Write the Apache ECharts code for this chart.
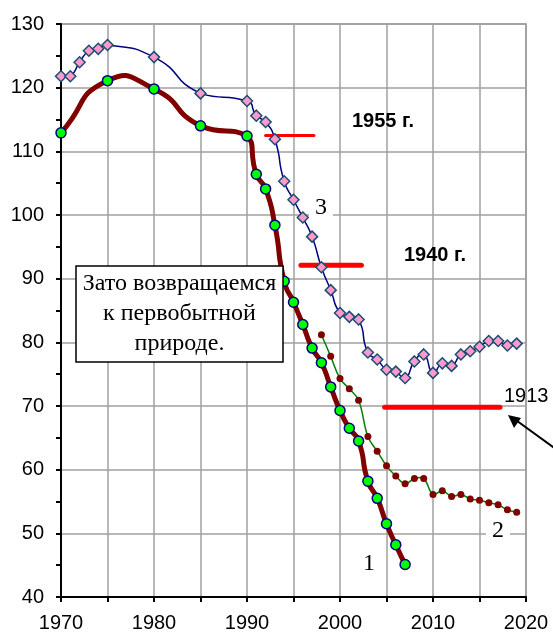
<!DOCTYPE html>
<html>
<head>
<meta charset="utf-8">
<script src="https://cdn.jsdelivr.net/npm/echarts@6/dist/echarts.min.js"></script>
<style>
  html, body { margin: 0; padding: 0; background: #fff; }
  #chart { width: 553px; height: 632px; }
</style>
</head>
<body>
<div id="chart"></div>
<script>
// curve 1 (thick dark red, green circles)
var years1 = [1970, 1975, 1980, 1985, 1990, 1991, 1992, 1993, 1994, 1995, 1996,
  1997, 1998, 1999, 2000, 2001, 2002, 2003, 2004, 2005, 2006, 2007];
var values1 = [112.9, 121.1, 119.8, 114.0, 112.4, 106.4, 104.1, 98.4, 89.6, 86.3, 82.8,
  79.1, 76.8, 73.0, 69.3, 66.5, 64.5, 58.2, 55.5, 51.5, 48.2, 45.1];

// curve 2 (thin green, dark red dots)
var years2 = [1998, 1999, 2000, 2001, 2002, 2003, 2004, 2005, 2006, 2007, 2008,
  2009, 2010, 2011, 2012, 2013, 2014, 2015, 2016, 2017, 2018, 2019];
var values2 = [81.2, 77.8, 74.3, 72.7, 70.9, 65.2, 62.9, 60.6, 59.0, 57.8, 58.6,
  58.6, 56.1, 56.7, 55.8, 56.1, 55.4, 55.2, 54.8, 54.5, 53.7, 53.3];

// curve 3 (navy, pink diamonds)
var years3 = [1970, 1971, 1972, 1973, 1974, 1975, 1980, 1985, 1990, 1991, 1992,
  1993, 1994, 1995, 1996, 1997, 1998, 1999, 2000, 2001, 2002, 2003, 2004, 2005,
  2006, 2007, 2008, 2009, 2010, 2011, 2012, 2013, 2014, 2015, 2016, 2017, 2018, 2019];
var values3 = [121.8, 121.8, 124.0, 125.8, 126.1, 126.7, 124.8, 119.1, 117.9, 115.6, 114.6,
  111.9, 105.3, 102.4, 99.6, 96.6, 91.8, 88.2, 84.6, 84.0, 83.6, 78.4, 77.3, 75.7,
  75.4, 74.4, 77.0, 78.1, 75.2, 76.7, 76.3, 78.1, 78.6, 79.3, 80.2, 80.2, 79.5, 79.8];

// reference levels (1955, 1940, 1913)
var refStart = [1992, 1995.8, 2004.8];
var refEnd = [1997.2, 2002.3, 2017.2];
var refValue = [112.5, 92.1, 69.8];
var refWidth = [3, 5, 5];

function pairs(xs, ys) {
  return xs.map(function (x, i) { return [x, ys[i]]; });
}

// Excel-like smoothed line: one bezier segment per point, drawn through the axes
function splineSeries(xs, ys, color, width, smooth) {
  var n = xs.length;
  // a point whose neighbours are unevenly spaced in time
  function uneven(k) {
    if (k <= 0 || k >= n - 1) return false;
    var a = xs[k] - xs[k - 1], b = xs[k + 1] - xs[k];
    return Math.max(a, b) / Math.min(a, b) > 1.5;
  }
  return {
    type: "custom",
    data: pairs(xs, ys),
    silent: true,
    renderItem: function (params, api) {
      var i = params.dataIndex;
      if (i >= n - 1) return null;
      function pt(k) {
        k = Math.max(0, Math.min(n - 1, k));
        return api.coord([xs[k], ys[k]]);
      }
      var clampY = uneven(i) || uneven(i + 1);
      var p1 = pt(i), p2 = pt(i + 1);
      var ylo = Math.min(p1[1], p2[1]), yhi = Math.max(p1[1], p2[1]);
      function ctrl(k, forward) {
        var p = pt(k), a = pt(k - 1), b = pt(k + 1);
        var vx = b[0] - a[0], vy = b[1] - a[1];
        var lp = Math.hypot(p[0] - a[0], p[1] - a[1]);
        var ln = Math.hypot(b[0] - p[0], b[1] - p[1]);
        var r = lp + ln > 0 ? (forward ? ln : lp) / (lp + ln) : 0.5;
        var s = forward ? smooth * r : -smooth * r;
        var cx = p[0] + vx * s, cy = p[1] + vy * s;
        var lim = forward ? b[0] : a[0];
        var lo = Math.min(p[0], lim), hi = Math.max(p[0], lim);
        var cxc = Math.max(lo, Math.min(hi, cx));
        if (cx !== p[0] && cxc !== cx) {
          cy = p[1] + (cy - p[1]) * (cxc - p[0]) / (cx - p[0]);
        }
        if (clampY) cy = Math.max(ylo, Math.min(yhi, cy));
        return [cxc, cy];
      }
      var c1 = ctrl(i, true), c2 = ctrl(i + 1, false);
      return {
        type: "bezierCurve",
        shape: {
          x1: p1[0], y1: p1[1], x2: p2[0], y2: p2[1],
          cpx1: c1[0], cpy1: c1[1], cpx2: c2[0], cpy2: c2[1],
        },
        style: { stroke: color, lineWidth: width, fill: null, lineCap: "round" },
      };
    },
  };
}

function markerSeries(xs, ys, symbol, size, itemStyle) {
  return {
    type: "line",
    data: pairs(xs, ys),
    symbol: symbol,
    symbolSize: size,
    showSymbol: true,
    lineStyle: { width: 0, opacity: 0 },
    itemStyle: itemStyle,
  };
}

var series = [];
for (var i = 0; i < refValue.length; i++) {
  series.push({
    type: "line",
    data: [[refStart[i], refValue[i]], [refEnd[i], refValue[i]]],
    showSymbol: false,
    lineStyle: { color: "#ff0000", width: refWidth[i], cap: "round" },
    silent: true,
  });
}
series.push(splineSeries(years2, values2, "#008000", 1.5, 0.4));
series.push(splineSeries(years3, values3, "#000080", 1.5, 0.6));
series.push(splineSeries(years1, values1, "#800000", 5, 0.6));
series.push(markerSeries(years2, values2, "circle", 7, { color: "#800000" }));
series.push(markerSeries(years3, values3, "diamond", 11,
  { color: "#ff99cc", borderColor: "#1b4f72", borderWidth: 1.5 }));
series.push(markerSeries(years1, values1, "circle", 10,
  { color: "#00ff00", borderColor: "#000080", borderWidth: 1.5 }));

var chartDom = document.getElementById("chart");
var myChart = echarts.init(chartDom);

var sans = "'Liberation Sans', Arial, sans-serif";
var serif = "'Liberation Serif', 'Times New Roman', serif";

var option = {
  animation: false,
  grid: {
    left: 61,
    right: 27,
    top: 24,
    bottom: 35,
    outerBoundsMode: "none",
    containLabel: false,
    show: true,
    borderColor: "#8a8a8a",
    borderWidth: 1.5,
  },
  xAxis: {
    type: "value",
    min: 1970,
    max: 2020,
    interval: 5,
    axisLine: { lineStyle: { color: "#000", width: 2 } },
    axisTick: { show: true, length: 5, lineStyle: { color: "#000", width: 2 } },
    axisLabel: {
      color: "#000",
      fontFamily: sans,
      fontSize: 20,
      margin: 16,
      formatter: function (v) {
        return v % 10 === 0 ? String(v) : "";
      },
    },
    splitLine: { show: true, lineStyle: { color: "#a0a0a0", width: 1.5 } },
  },
  yAxis: {
    type: "value",
    min: 40,
    max: 130,
    interval: 10,
    axisLine: { show: true, lineStyle: { color: "#000", width: 2 } },
    axisTick: { show: true, length: 5, lineStyle: { color: "#000", width: 2 } },
    minorTick: { show: true, splitNumber: 2, length: 5, lineStyle: { color: "#000", width: 2 } },
    axisLabel: { color: "#000", fontFamily: sans, fontSize: 20, margin: 17 },
    splitLine: { show: true, lineStyle: { color: "#a0a0a0", width: 1.5 } },
  },
  series: series,
  graphic: [
    {
      type: "text",
      z: 100,
      style: { text: "1955 г.", x: 352, y: 121, font: "bold 20px " + sans, fill: "#000", verticalAlign: "middle" },
    },
    {
      type: "text",
      z: 100,
      style: { text: "1940 г.", x: 404, y: 255, font: "bold 20px " + sans, fill: "#000", verticalAlign: "middle" },
    },
    {
      type: "text",
      z: 100,
      style: { text: "1913", x: 504, y: 396, font: "20px " + sans, fill: "#000", verticalAlign: "middle" },
    },
    {
      type: "text",
      z: 100,
      style: {
        text: "3", x: 321, y: 208, font: "24px " + serif, fill: "#000",
        align: "center", verticalAlign: "middle", backgroundColor: "#fff", padding: [0, 6],
      },
    },
    {
      type: "text",
      z: 100,
      style: {
        text: "2", x: 498, y: 531, font: "24px " + serif, fill: "#000",
        align: "center", verticalAlign: "middle", backgroundColor: "#fff", padding: [0, 6],
      },
    },
    {
      type: "text",
      z: 100,
      style: { text: "1", x: 369, y: 564, font: "24px " + serif, fill: "#000", align: "center", verticalAlign: "middle" },
    },
    {
      type: "rect",
      z: 100,
      shape: { x: 76, y: 266, width: 207, height: 96 },
      style: { fill: "#fff", stroke: "#000", lineWidth: 1.5 },
    },
    {
      type: "text",
      z: 101,
      style: {
        text: "Зато возвращаемся\nк первобытной\nприроде.",
        x: 179.5, y: 314, font: "24px " + serif, lineHeight: 30, fill: "#000",
        align: "center", verticalAlign: "middle",
      },
    },
    {
      type: "line",
      z: 100,
      shape: { x1: 560, y1: 452, x2: 513, y2: 418 },
      style: { stroke: "#000", lineWidth: 2 },
    },
    {
      type: "polygon",
      z: 100,
      shape: { points: [[508, 415], [521, 418], [514, 428]] },
      style: { fill: "#000" },
    },
  ],
};

option && myChart.setOption(option);
</script>
</body>
</html>
